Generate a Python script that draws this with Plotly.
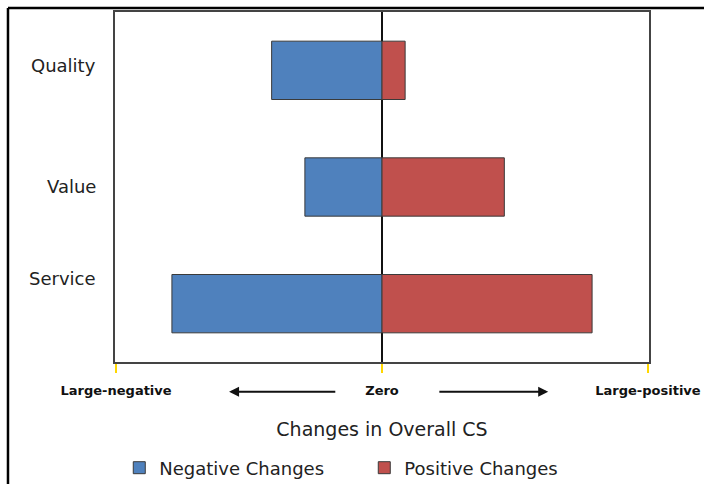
import plotly.graph_objects as go

categories = ["Service", "Value", "Quality"]
negative_changes = [-0.79, -0.29, -0.415]
positive_changes = [0.79, 0.46, 0.087]
tick_values = [-1, 0, 1]
tick_labels = ["Large-negative", "Zero", "Large-positive"]

# label placement offsets (pixels) for category labels, as in the reference
label_yshift = {"Service": 25, "Value": 1, "Quality": 5}

blue = "#4F81BD"
red = "#C0504D"
edge = "#3a3a3a"
FONT = "DejaVu Sans, Verdana, sans-serif"

fig = go.Figure()
fig.add_trace(go.Bar(y=categories, x=negative_changes, orientation="h", name="Negative Changes",
                     marker=dict(color=blue, line=dict(color=edge, width=1)), width=0.5))
fig.add_trace(go.Bar(y=categories, x=positive_changes, orientation="h", name="Positive Changes",
                     marker=dict(color=red, line=dict(color=edge, width=1)), width=0.5))

fig.update_layout(
    width=704, height=484,
    margin=dict(l=115, r=55, t=12, b=122, autoexpand=False),
    barmode="relative",
    plot_bgcolor="white", paper_bgcolor="white",
    font=dict(family=FONT, color="#222"),
    showlegend=True,
    legend=dict(orientation="h", x=0.008, xanchor="left", y=-0.25, yanchor="top",
                font=dict(size=18, color="#222"), entrywidth=200, entrywidthmode="pixels",
                traceorder="normal"),
    xaxis=dict(range=[-1.004, 1.004], tickvals=tick_values, ticktext=tick_labels,
               ticks="outside", ticklen=9, tickcolor="#FFD700", tickwidth=1.5,
               tickfont=dict(size=13, color="#111", weight="bold"), ticklabelstandoff=7,
               showgrid=False, zeroline=True, zerolinecolor="#111", zerolinewidth=1.5,
               showline=True, linecolor="#444", linewidth=1.5, mirror=True, automargin=False,
               title=dict(text="Changes in Overall CS", font=dict(size=19, color="#222"), standoff=25)),
    yaxis=dict(categoryorder="array", categoryarray=categories, range=[-0.5, 2.5],
               showgrid=False, zeroline=False, ticks="", showticklabels=False, automargin=False,
               showline=True, linecolor="#444", linewidth=1.5, mirror=True),
)

# category labels
for cat in categories:
    fig.add_annotation(x=-0.032, xref="paper", xanchor="right", y=cat, yref="y",
                       text=cat, showarrow=False, yshift=label_yshift[cat],
                       font=dict(size=18, color="#222", family=FONT))

# arrows under the axis
fig.add_annotation(x=-0.575, y=-0.085, ax=-0.17, ay=0, xref="x", yref="paper",
                   axref="x", ayref="pixel", text="", showarrow=True,
                   arrowhead=2, arrowsize=1, arrowwidth=2, arrowcolor="#111")
fig.add_annotation(x=0.625, y=-0.085, ax=0.21, ay=0, xref="x", yref="paper",
                   axref="x", ayref="pixel", text="", showarrow=True,
                   arrowhead=2, arrowsize=1, arrowwidth=2, arrowcolor="#111")

# outer frame lines (left and top)
fig.add_shape(type="line", xref="paper", yref="paper", x0=-0.2004, x1=-0.2004, y0=1.0114, y1=-0.4,
              line=dict(color="black", width=2.5))
fig.add_shape(type="line", xref="paper", yref="paper", x0=-0.2004, x1=1.2, y0=1.0114, y1=1.0114,
              line=dict(color="black", width=2.5))

fig.write_html("out.html", config={"displayModeBar": False},
               post_script="document.body.style.margin='0';")
